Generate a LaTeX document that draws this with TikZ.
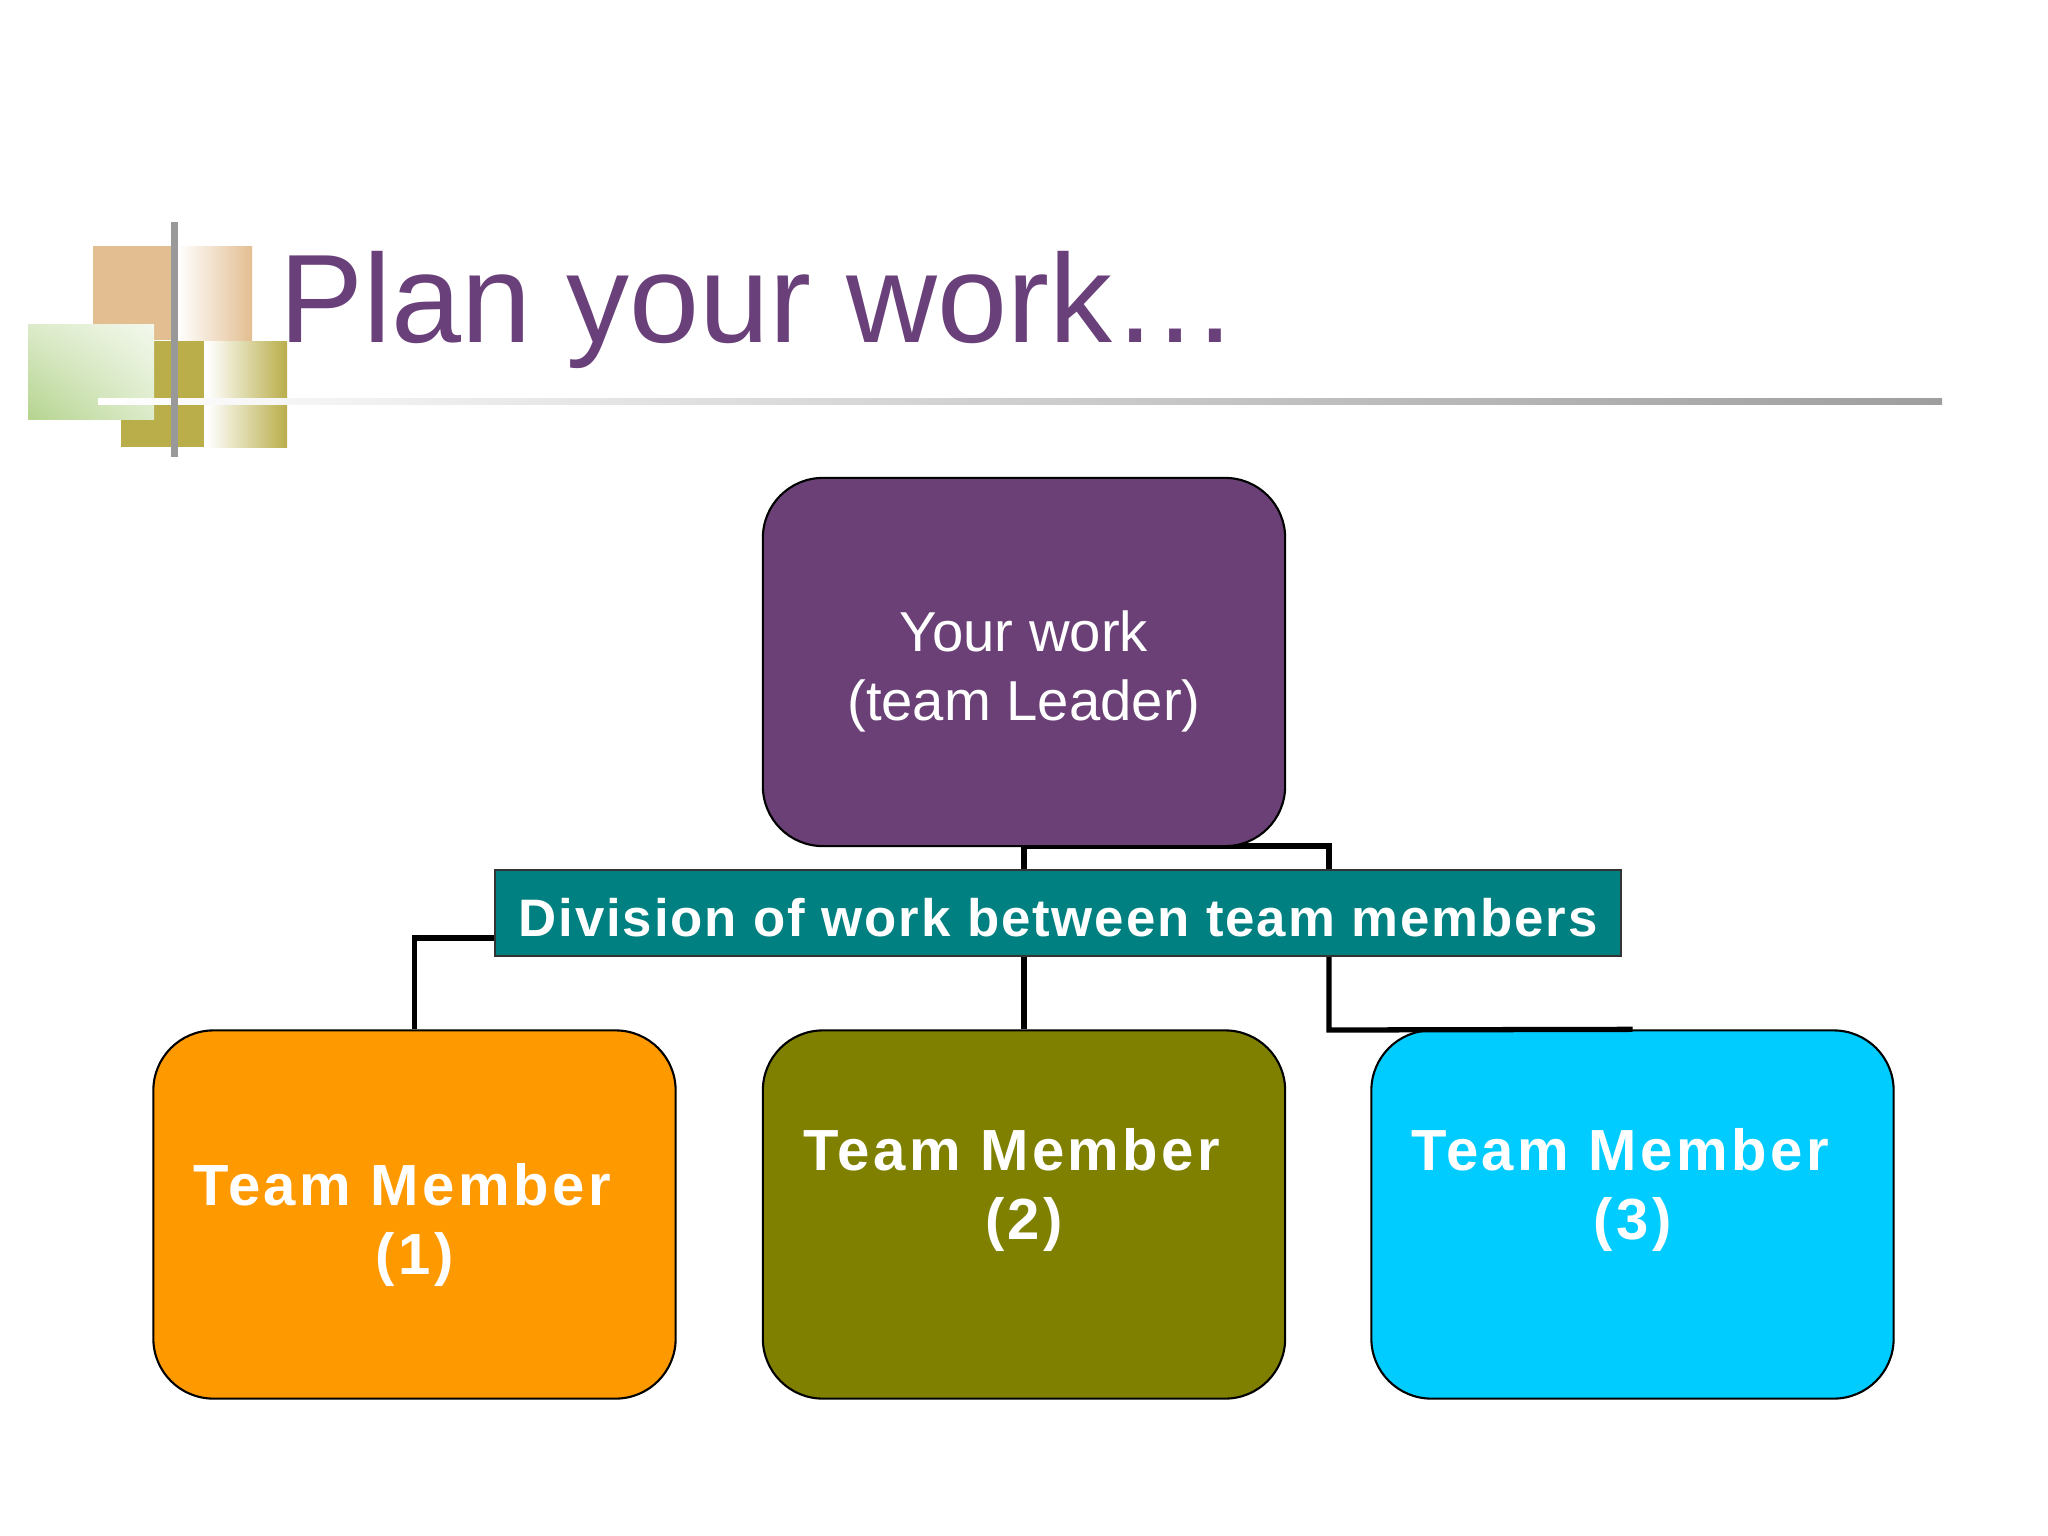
\documentclass[tikz,border=0pt]{standalone}
\usepackage{fontspec}
\usetikzlibrary{shadings}
\setmainfont{Liberation Sans}
\newfontfamily\spaced[LetterSpace=3.6]{Liberation Sans}
\newfontfamily\spacedw[LetterSpace=6]{Liberation Sans}
\definecolor{leadc}{RGB}{106,64,118}
\definecolor{tealc}{RGB}{0,128,128}
\definecolor{orng}{RGB}{255,153,0}
\definecolor{olv}{RGB}{128,128,0}
\definecolor{cyn}{RGB}{0,204,255}
\definecolor{titlec}{RGB}{106,64,122}
\definecolor{tanc}{RGB}{227,190,145}
\definecolor{olivel}{RGB}{185,174,74}
\definecolor{greenl}{RGB}{181,212,143}
\definecolor{greenw}{RGB}{243,248,236}
\definecolor{greenm}{RGB}{220,235,202}
\begin{document}
\begin{tikzpicture}[x=0.01cm,y=-0.01cm,
  box/.style={draw=black, line width=0.6pt, rounded corners=0.6cm, minimum width=5.22cm, minimum height=3.68cm, inner sep=0pt},
  conn/.style={draw=black, line width=1.5pt},
  lbl/.style={text=white, align=center, inner sep=0pt},
  mem/.style={lbl, font=\spacedw\bfseries\fontsize{16.5}{19.6}\selectfont}]
\useasboundingbox (0,0) rectangle (2048,1536);
\fill[white] (0,0) rectangle (2048,1536);
% logo
\fill[tanc] (93,246) rectangle (178,340);
\shade[left color=white, right color=tanc] (178,246) rectangle (252,340);
\fill[olivel] (121,341) rectangle (204,447);
\shade[left color=white, right color=olivel] (207,341) rectangle (287,447);
\shade[lower left=greenl, upper right=greenw, upper left=greenm, lower right=greenm] (28,324) rectangle (154,419);
\shade[left color=white, right color=black!38] (98,398) rectangle (1942,404);
\fill[black!40] (171,222) rectangle (178,457);
% title
\node[anchor=base west, inner sep=0pt, text=titlec, font=\fontsize{35.8}{40}\selectfont] (title) at (279,342) {Plan your work…};
% coordinates
\coordinate (rj) at (1329,1030);
\coordinate (lj) at (414.5,938);
% connector above the teal label (behind the leader box)
\draw[conn] (1024,846) -- (1329,846) -- (1329,870);
% boxes
\node[box, fill=leadc] (lead) at (1024,662) {};
\node[box, fill=orng] (m1) at (414.5,1214.5) {};
\node[box, fill=olv] (m2) at (1024,1214.5) {};
\node[box, fill=cyn] (m3) at (1632.5,1214.5) {};
\draw[conn] (lead.south) -- (lead.south |- 0,870);
\node[draw=black!80, line width=0.6pt, fill=tealc, minimum width=11.26cm, minimum height=0.86cm, inner sep=0pt, text height=13.2pt, text depth=0pt, text=white, font=\spaced\bfseries\fontsize{15}{18}\selectfont] (div) at (1058,913) {Division of work between team members};
\draw[conn] (div.south -| m2.north) -- (m2.north);
\draw[conn] (div.south -| rj) -- (rj) -- (m3.north);
\draw[conn] (div.west |- lj) -- (lj) -- (m1.north);
% texts
\node[lbl, font=\fontsize{16}{19.6}\selectfont] (leadt) at (1024,671) {Your work\\(team Leader)};
\node[mem] (m1t) at (414.5,1225) {Team Member\hspace*{7pt}\\(1)};
\node[mem] (m2t) at (1024,1190) {Team Member\hspace*{7pt}\\(2)};
\node[mem] (m3t) at (1632.5,1190) {Team Member\hspace*{7pt}\\(3)};
\end{tikzpicture}
\end{document}
